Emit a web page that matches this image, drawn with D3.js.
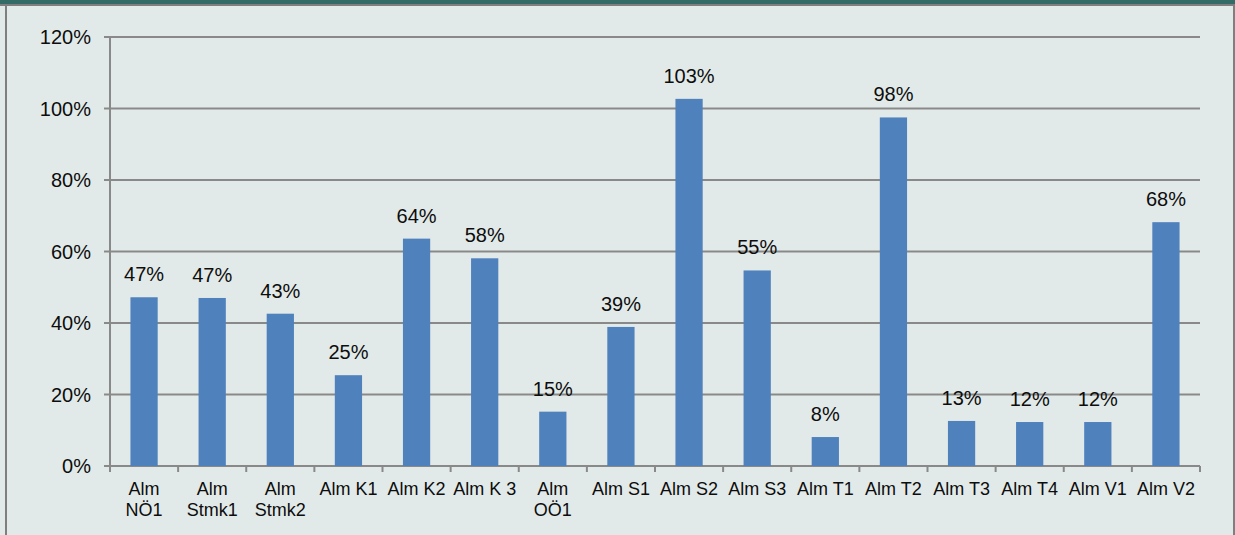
<!DOCTYPE html>
<html><head><meta charset="utf-8">
<script src="https://cdn.jsdelivr.net/npm/d3@7"></script>
<style>
html,body{margin:0;padding:0;background:#e2eae9;}
svg{display:block;font-family:"Liberation Sans",Arial,sans-serif;}
</style></head>
<body><svg id="c" width="1235" height="535"></svg>
<script>
const categories = [["Alm","NÖ1"],["Alm","Stmk1"],["Alm","Stmk2"],["Alm K1"],["Alm K2"],["Alm K 3"],["Alm","OÖ1"],["Alm S1"],["Alm S2"],["Alm S3"],["Alm T1"],["Alm T2"],["Alm T3"],["Alm T4"],["Alm V1"],["Alm V2"]];
const values = [0.472,0.47,0.426,0.254,0.636,0.581,0.152,0.389,1.027,0.547,0.081,0.975,0.126,0.123,0.123,0.682];
const yTicks = [0,0.2,0.4,0.6,0.8,1.0,1.2];

const svg = d3.select("#c");
svg.append("rect").attr("x",0).attr("y",0).attr("width",1235).attr("height",535).attr("fill","#e2eae9");
svg.append("rect").attr("x",0).attr("y",0).attr("width",1235).attr("height",4).attr("fill","#336b67");
svg.append("rect").attr("x",0).attr("y",4).attr("width",1235).attr("height",2).attr("fill","#7f7f7f");
svg.append("rect").attr("x",5).attr("y",4).attr("width",2).attr("height",531).attr("fill","#7f7f7f");
svg.append("rect").attr("x",1233).attr("y",4).attr("width",2).attr("height",531).attr("fill","#7f7f7f");

const L=110,R=1200,T=37,B=466;
const idx = categories.map((d,i)=>i);
const x = d3.scaleBand().domain(idx).range([L,R]).paddingInner(0.6).paddingOuter(0.3);
const xb = d3.scaleBand().domain(idx).range([L,R]);
const y = d3.scaleLinear().domain([0,1.2]).range([B,T]);
const grey="#898989";
const ink="#0d0d0d";

svg.append("g").selectAll("line").data(yTicks).join("line")
  .attr("x1",L-6).attr("x2",R).attr("y1",d=>y(d)).attr("y2",d=>y(d))
  .attr("stroke",grey).attr("stroke-width",2);
svg.append("line").attr("x1",L).attr("x2",L).attr("y1",T).attr("y2",B+6).attr("stroke",grey).attr("stroke-width",2);
svg.append("g").selectAll("text").data(yTicks).join("text")
  .attr("x",91).attr("y",d=>y(d)).attr("dy","0.35em").attr("text-anchor","end")
  .attr("font-size",20).attr("fill",ink).text(d=>d3.format(".0%")(d));
const bounds = idx.map(i=>xb(i)).concat([R]);
svg.append("g").selectAll("line").data(bounds).join("line")
  .attr("x1",d=>d).attr("x2",d=>d).attr("y1",B).attr("y2",B+6)
  .attr("stroke",grey).attr("stroke-width",2);
svg.append("g").selectAll("rect").data(values).join("rect")
  .attr("x",(d,i)=>x(i)).attr("width",x.bandwidth())
  .attr("y",d=>y(d)).attr("height",d=>B-y(d))
  .attr("fill","#4f81bd");
svg.append("g").selectAll("text").data(values).join("text")
  .attr("x",(d,i)=>x(i)+x.bandwidth()/2).attr("y",d=>y(d)-16)
  .attr("text-anchor","middle").attr("font-size",20).attr("fill",ink)
  .text(d=>d3.format(".0%")(d));
const cl = svg.append("g").selectAll("text").data(categories).join("text")
  .attr("text-anchor","middle").attr("font-size",18).attr("fill",ink);
cl.each(function(d,i){
  const t=d3.select(this);
  d.forEach((s,j)=>t.append("tspan").attr("x",x(i)+x.bandwidth()/2).attr("y",495+j*21).text(s));
});
</script></body></html>
